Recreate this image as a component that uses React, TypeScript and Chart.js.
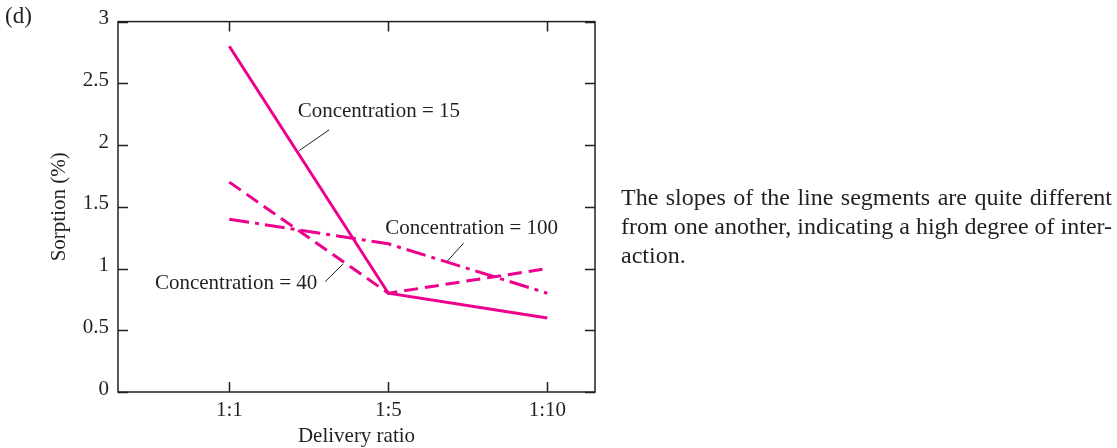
import React, { useEffect, useRef } from "react";
import { Chart, registerables } from "chart.js";

Chart.register(...registerables);

// ---- data ----
const categories = ["1:1", "1:5", "1:10"];
const categoryPositions = [1, 2, 3];
const conc15 = [2.8, 0.8, 0.6];
const conc40 = [1.7, 0.8, 1.0];
const conc100 = [1.4, 1.2, 0.8];
const yTickValues = [0, 0.5, 1, 1.5, 2, 2.5, 3];
const seriesLabels = ["Concentration = 15", "Concentration = 40", "Concentration = 100"];
// annotation text anchors (data units) and leader lines (data units)
const labelX = [1.43, 1.553, 1.981];
const labelY = [2.27, 0.878, 1.325];
const labelAlign = ["left", "right", "left"];
const leaderFrom = [
  [1.439, 1.955],
  [1.603, 0.894],
  [2.372, 1.061],
];
const leaderTo = [
  [1.628, 2.123],
  [1.716, 1.037],
  [2.473, 1.205],
];
const panelLabel = "(d)";
const xTitle = "Delivery ratio";
const yTitle = "Sorption (%)";
const noteLines = [
  "The slopes of the line segments are quite different",
  "from one another, indicating a high degree of inter-",
  "action.",
];

const MAGENTA = "#EC008C";
const INK = "#231F20";
const FONT = '"Liberation Serif", "Times New Roman", serif';

const toPoints = (vals: number[]) =>
  categoryPositions.map((x, i) => ({ x, y: vals[i] }));

const overlayPlugin = {
  id: "overlay",
  afterDraw(chart: any) {
    const { ctx, chartArea: a, scales } = chart;
    const x = scales.x;
    const y = scales.y;
    ctx.save();
    // frame
    ctx.strokeStyle = INK;
    ctx.lineWidth = 1.5;
    ctx.strokeRect(a.left, a.top, a.right - a.left, a.bottom - a.top);
    // inward ticks on all four sides
    ctx.beginPath();
    x.ticks.forEach((t: any) => {
      const px = Math.round(x.getPixelForValue(t.value)) + 0.5;
      ctx.moveTo(px, a.bottom);
      ctx.lineTo(px, a.bottom - 10);
      ctx.moveTo(px, a.top);
      ctx.lineTo(px, a.top + 10);
    });
    y.ticks.forEach((t: any) => {
      const py = Math.round(y.getPixelForValue(t.value)) + 0.5;
      ctx.moveTo(a.left, py);
      ctx.lineTo(a.left + 10, py);
      ctx.moveTo(a.right, py);
      ctx.lineTo(a.right - 10, py);
    });
    ctx.stroke();

    // annotations
    ctx.fillStyle = INK;
    ctx.font = `21px ${FONT}`;
    ctx.textBaseline = "middle";
    seriesLabels.forEach((txt, i) => {
      ctx.textAlign = labelAlign[i] as CanvasTextAlign;
      ctx.fillText(txt, x.getPixelForValue(labelX[i]), y.getPixelForValue(labelY[i]));
    });
    ctx.lineWidth = 1;
    ctx.beginPath();
    leaderFrom.forEach((f, i) => {
      const t = leaderTo[i];
      ctx.moveTo(x.getPixelForValue(f[0]), y.getPixelForValue(f[1]));
      ctx.lineTo(x.getPixelForValue(t[0]), y.getPixelForValue(t[1]));
    });
    ctx.stroke();

    // panel label
    ctx.textAlign = "left";
    ctx.font = `23px ${FONT}`;
    ctx.fillText(panelLabel, 5, 17);
    ctx.restore();
  },
};

export default function App() {
  const canvasRef = useRef<HTMLCanvasElement | null>(null);

  useEffect(() => {
    const canvas = canvasRef.current;
    if (!canvas) return;
    const tickFont = { family: FONT, size: 21 };
    const chart = new Chart(canvas, {
      type: "line",
      data: {
        datasets: [
          {
            label: seriesLabels[0],
            data: toPoints(conc15),
            borderColor: MAGENTA,
            borderWidth: 3,
            pointRadius: 0,
            tension: 0,
          },
          {
            label: seriesLabels[1],
            data: toPoints(conc40),
            borderColor: MAGENTA,
            borderWidth: 3,
            borderDash: [14, 7],
            pointRadius: 0,
            tension: 0,
          },
          {
            label: seriesLabels[2],
            data: toPoints(conc100),
            borderColor: MAGENTA,
            borderWidth: 3,
            borderDash: [20, 6, 4, 6],
            pointRadius: 0,
            tension: 0,
          },
        ],
      },
      options: {
        responsive: false,
        animation: false,
        devicePixelRatio: 1,
        layout: { padding: { top: 16, right: 522, bottom: 0, left: 0 } },
        plugins: {
          legend: { display: false },
          tooltip: { enabled: false },
        },
        scales: {
          x: {
            type: "linear",
            min: 0.3,
            max: 3.3,
            grid: { display: false, drawTicks: false },
            border: { display: false },
            afterBuildTicks: (scale: any) => {
              scale.ticks = categoryPositions.map((v) => ({ value: v }));
            },
            afterFit: (scale: any) => {
              scale.height = 56;
            },
            ticks: {
              padding: 6,
              color: INK,
              font: tickFont,
              maxRotation: 0,
              autoSkip: false,
              callback: (v: any) => {
                const i = categoryPositions.indexOf(Number(v));
                return i >= 0 ? categories[i] : "";
              },
            },
            title: {
              display: true,
              text: xTitle,
              color: INK,
              font: { family: FONT, size: 21, lineHeight: 1.2 },
              padding: { top: 0, bottom: -1 },
            },
          },
          y: {
            type: "linear",
            min: 0,
            max: 3,
            grid: { display: false, drawTicks: false },
            border: { display: false },
            afterBuildTicks: (scale: any) => {
              scale.ticks = yTickValues.map((v) => ({ value: v }));
            },
            afterFit: (scale: any) => {
              scale.width = 118;
            },
            ticks: {
              padding: 9,
              labelOffset: -3,
              color: INK,
              font: tickFont,
              callback: (v: any) => String(v),
            },
            title: {
              display: true,
              text: yTitle,
              color: INK,
              font: { family: FONT, size: 21, lineHeight: 1.2 },
              padding: { top: 47, bottom: 0 },
            },
          },
        },
      },
      plugins: [overlayPlugin],
    });
    return () => chart.destroy();
  }, []);

  return (
    <div style={{ position: "absolute", left: 0, top: 0, width: 1117, height: 448, background: "#fff" }}>
      <canvas ref={canvasRef} width={1117} height={448} style={{ display: "block" }} />
      <div
        style={{
          position: "absolute",
          left: 621,
          top: 183,
          width: 491,
          fontFamily: FONT,
          fontSize: 24,
          lineHeight: "29px",
          color: INK,
        }}
      >
        {noteLines.map((l, i) => (
          <div
            key={i}
            style={{
              whiteSpace: "nowrap",
              textAlign: i < noteLines.length - 1 ? "justify" : "left",
              textAlignLast: i < noteLines.length - 1 ? "justify" : "left",
            }}
          >
            {l}
          </div>
        ))}
      </div>
    </div>
  );
}
